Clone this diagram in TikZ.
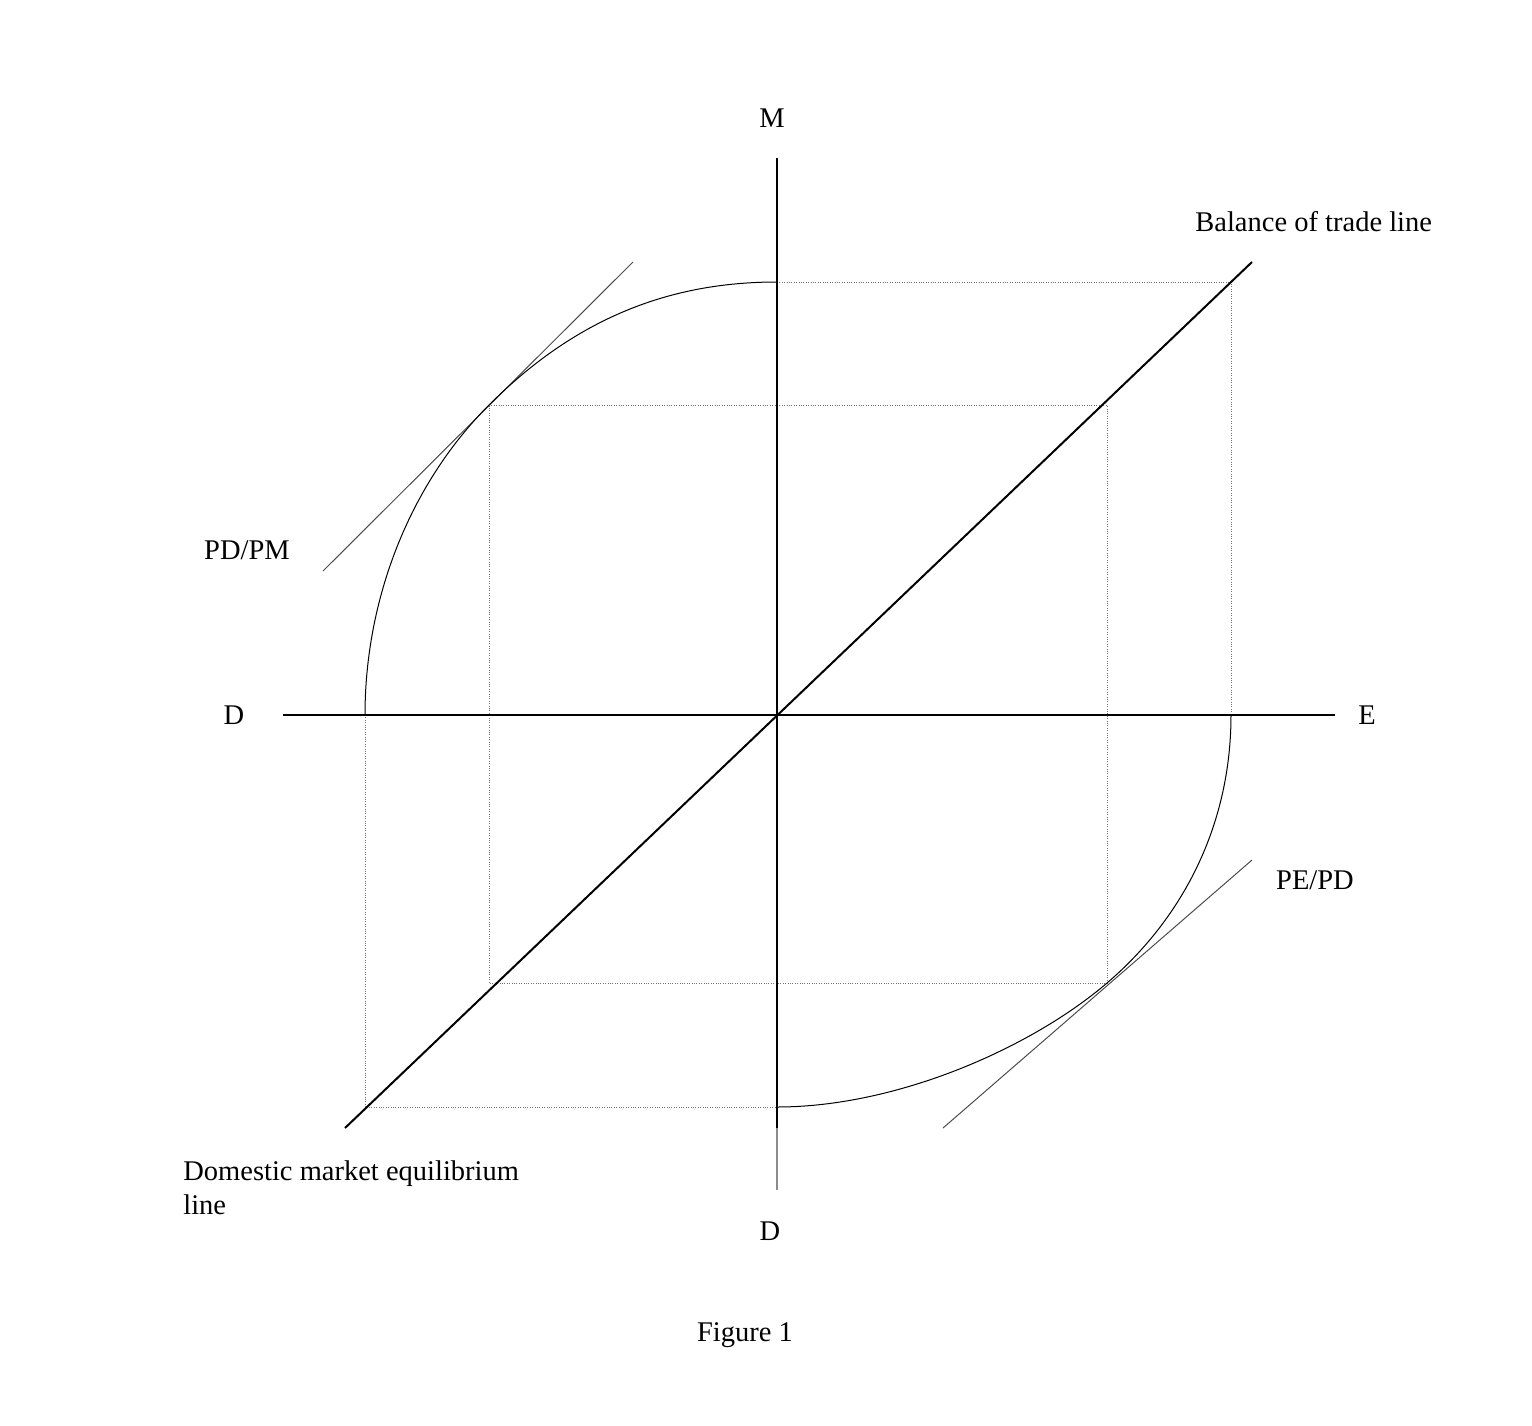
\documentclass[tikz,border=0pt]{standalone}
\usepackage{fontspec}
\setmainfont{Liberation Serif}
\begin{document}
\begin{tikzpicture}[x=0.5pt,y=-0.5pt,
  axis/.style={line width=1pt,black},
  thinline/.style={line width=0.5pt,black!70},
  curve/.style={line width=0.5pt,black},
  guide/.style={line width=0.5pt,black!55,dash pattern=on 0.5pt off 0.7pt},
  lbl/.style={inner sep=0pt,font=\fontsize{14.25}{17}\selectfont}]
\useasboundingbox (0,0) rectangle (1532,1425);
% coordinates
\coordinate (O) at (777,715);
\coordinate (Mtop) at (777,158);
\coordinate (Dbot) at (777,1128);
\coordinate (Dtail) at (777,1190);
\coordinate (Dleft) at (283,715);
\coordinate (Eright) at (1335,715);
\coordinate (BTa) at (345,1128);
\coordinate (BTb) at (1252,262);
\coordinate (TLa) at (323,571);
\coordinate (TLb) at (633,262);
\coordinate (TRa) at (943,1128);
\coordinate (TRb) at (1252,860);
\coordinate (P1) at (365,715);
\coordinate (P2) at (489,405);
\coordinate (P3) at (777,282);
\coordinate (Q1) at (1231,715);
\coordinate (Q2) at (1107,983);
\coordinate (Q3) at (777,1107);
\coordinate (R1) at (1231,282);
\coordinate (R2) at (365,1107);
\coordinate (S1) at (1107,405);
\coordinate (S2) at (489,983);
% guides
\draw[guide] (P3) -- (R1) -- (Q1);
\draw[guide] (P1) -- (R2) -- (Q3);
\draw[guide] (P2) -- (S1) -- (Q2) -- (S2) -- cycle;
% axes
\draw[axis] (Mtop) -- (Dbot);
\draw[line width=0.6pt,black!45] (Dbot) -- (Dtail);
\draw[axis] (Dleft) -- (Eright);
\draw[axis] (BTa) -- (BTb);
% tangent lines
\draw[thinline] (TLa) -- (TLb);
\draw[thinline] (TRa) -- (TRb);
% curves
\draw[curve] (P1) .. controls (365,600) and (409,485) .. (P2)
  .. controls (574,320) and (667,282) .. (P3);
\draw[curve] (Q1) .. controls (1231,825) and (1183,918) .. (Q2)
  .. controls (1031,1048) and (897,1107) .. (Q3);
% labels
\node[lbl] (lM) at (772,118) {M};
\node[lbl,anchor=west] (lBT) at (1195,222) {Balance of trade line};
\node[lbl] (lPDPM) at (247,550) {PD/PM};
\node[lbl] (lD1) at (234,715) {D};
\node[lbl] (lE) at (1367,715) {E};
\node[lbl] (lPEPD) at (1315,880) {PE/PD};
\node[lbl] (lD2) at (770,1231) {D};
\node[lbl,anchor=north west,align=left] (lDom) at (183,1160) {Domestic market equilibrium\\line};
\node[lbl] (lFig) at (745,1335) {Figure 1};
\end{tikzpicture}
\end{document}
